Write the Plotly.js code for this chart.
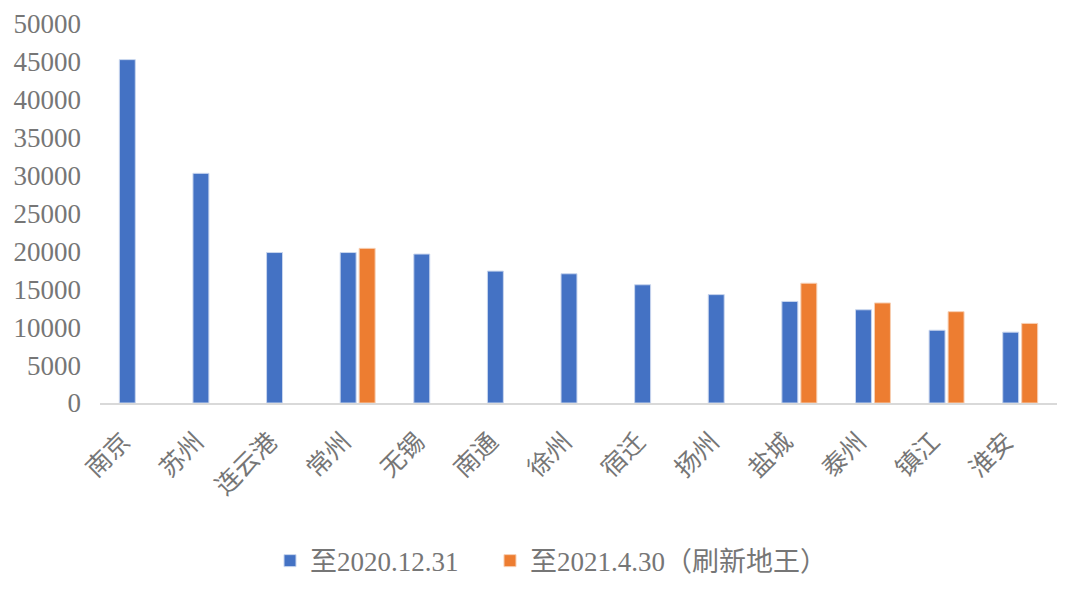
<!DOCTYPE html>
<html>
<head>
<meta charset="utf-8">
<script src="https://cdn.plot.ly/plotly-3.0.1.min.js"></script>
<style>html,body{margin:0;padding:0;background:#fff;}#chart{width:1080px;height:595px;}</style>
</head>
<body>
<div id="chart"></div>
<script>
const cities = ["南京","苏州","连云港","常州","无锡","南通","徐州","宿迁","扬州","盐城","泰州","镇江","淮安"];
const seriesNames = ["至2020.12.31","至2021.4.30（刷新地王）"];
const values2020 = [45300,30300,19850,19850,19650,17400,17050,15600,14300,13400,12300,9600,9350];
const values2021 = [null,null,null,20400,null,null,null,null,null,15800,13200,12050,10500];
const yTicks = [0,5000,10000,15000,20000,25000,30000,35000,40000,45000,50000];

const tickFont = {family: "Liberation Serif, Noto Sans CJK SC, serif", size: 27, color: "#767676"};
const legendFont = {family: "Liberation Serif, Noto Sans CJK SC, serif", size: 27, color: "#767676"};

const traces = [
  {type: "bar", name: seriesNames[0], x: cities, y: values2020, legend: "legend",
   marker: {color: "#4472C4", line: {color: "#c9d6ee", width: 1}}},
  {type: "bar", name: seriesNames[1], x: cities, y: values2021, legend: "legend2",
   marker: {color: "#ED7D31", line: {color: "#f7cfb3", width: 1}}}
];

const layout = {
  width: 1080, height: 595,
  margin: {l: 100, r: 23, t: 24, b: 192, autoexpand: false},
  paper_bgcolor: "#fff", plot_bgcolor: "#fff",
  barmode: "group", bargap: 0.484, bargroupgap: 0.16,
  showlegend: true,
  legend: {orientation: "h", xref: "container", yref: "container", x: 0.25, xanchor: "left", y: 0.057, yanchor: "middle", font: legendFont, itemwidth: 30},
  legend2: {orientation: "h", xref: "container", yref: "container", x: 0.4537, xanchor: "left", y: 0.057, yanchor: "middle", font: legendFont, itemwidth: 30},
  xaxis: {type: "category", tickangle: -45, tickfont: {family: "Noto Sans CJK SC, sans-serif", size: 25, color: "#767676"},
    showgrid: false, zeroline: false, showline: true, linecolor: "#d9d9d9", linewidth: 2, ticks: "",
    ticklabelstandoff: 12, ticklabelshift: -14, automargin: false},
  yaxis: {range: [0, 50000], tickvals: yTicks, ticktext: yTicks.map(String), tickfont: tickFont, automargin: false,
    showgrid: false, zeroline: false, showline: false, ticks: "", ticklabelstandoff: 18}
};

Plotly.newPlot("chart", traces, layout, {displayModeBar: false, staticPlot: true});
</script>
</body>
</html>
